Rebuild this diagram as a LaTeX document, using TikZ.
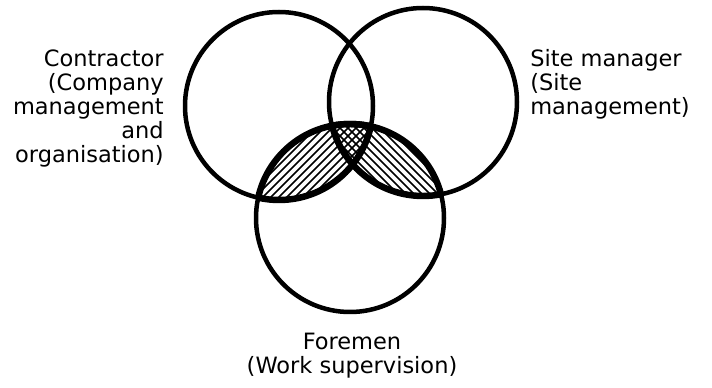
\documentclass[tikz,border=0pt]{standalone}
\usepackage{fontspec}
\setmainfont{DejaVu Sans}
\tikzset{
  ring/.style={draw=black,line width=3.2pt},
  ringbold/.style={draw=black,line width=4.6pt},
  hatch/.style={draw=black,line width=1.2pt},
  lbl/.style={font=\fontsize{16}{17}\selectfont,text=black,inner sep=0pt}
}
\newcommand{\rad}{2.35}
\begin{document}
\begin{tikzpicture}[x=1cm,y=1cm]
\path[use as bounding box,fill=white] (0,0) rectangle (17.8,9.7);
\coordinate (contr) at (6.975,7.05);
\coordinate (site) at (10.575,7.15);
\coordinate (fore) at (8.75,4.25);
% hatching of the overlaps with the foremen circle
\begin{scope}
\clip (contr) circle (\rad); \clip (fore) circle (\rad);
\foreach \c in {-10,-9.8,...,2} \draw[hatch] (4,4+\c) -- (13,13+\c);
\end{scope}
\begin{scope}
\clip (site) circle (\rad); \clip (fore) circle (\rad);
\foreach \c in {7,7.2,...,20} \draw[hatch] (4,\c-4) -- (13,\c-13);
\end{scope}
% circles
\draw[ring] (contr) circle (\rad);
\draw[ring] (site) circle (\rad);
\draw[ring] (fore) circle (\rad);
\begin{scope}
\clip (fore) circle (\rad);
\draw[ringbold] (contr) circle (\rad);
\draw[ringbold] (site) circle (\rad);
\end{scope}
\begin{scope}
\clip (contr) circle (\rad);
\draw[ringbold] (fore) circle (\rad);
\end{scope}
\begin{scope}
\clip (site) circle (\rad);
\draw[ringbold] (fore) circle (\rad);
\end{scope}
% labels
\node[lbl,align=right,anchor=north east] (contrtext) at (4.1,8.45) {Contractor\\(Company\\management\\and\\organisation)};
\node[lbl,align=left,anchor=north west] (sitetext) at (13.25,8.46) {Site manager\\(Site\\management)};
\node[lbl,align=center,anchor=north] (foretext) at (8.8,1.38) {Foremen\\(Work supervision)};
\end{tikzpicture}
\end{document}
